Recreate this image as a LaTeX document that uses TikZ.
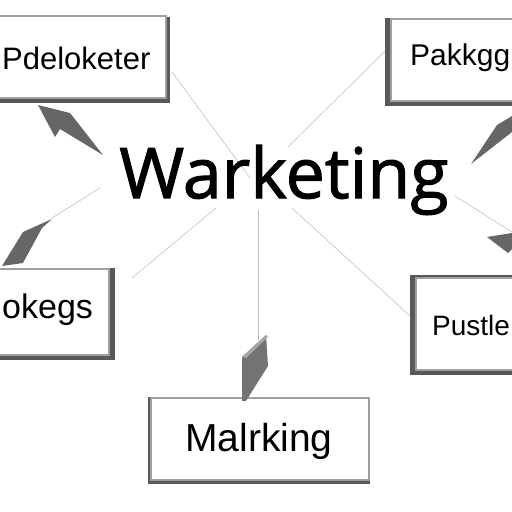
\documentclass[tikz,border=0pt]{standalone}
\usepackage{fontspec}
\setmainfont{Liberation Sans}
\newfontfamily\handfont[FakeBold=1.5]{Open Sans}
\begin{document}
\begin{tikzpicture}[x=1pt,y=-1pt,
  boxstyle/.style={fill=white,draw=gray!75,line width=1.6pt},
  shadowstyle/.style={fill=black!65},
  wedge/.style={fill=black!60,draw=none},
  thin/.style={draw=gray!55,line width=0.5pt}]
\useasboundingbox[fill=white] (0,0) rectangle (512,512);
% connectors (thin lines)
\coordinate (c1) at (250,178);
\coordinate (c2) at (288,147);
\coordinate (c3) at (216,208);
\coordinate (c4) at (292,208);
\coordinate (c5) at (258,210);
\coordinate (c6) at (455,196);
\coordinate (c7) at (100,188);
\coordinate (tl) at (172,72);
\coordinate (tr) at (386,50);
\coordinate (lb) at (132,278);
\coordinate (rb) at (410,316);
\coordinate (bb) at (258,340);
\coordinate (rr) at (512,232);
\coordinate (la) at (52,218);
\draw[thin] (tl) -- (c1);
\draw[thin] (tr) -- (c2);
\draw[thin] (c3) -- (lb);
\draw[thin] (c4) -- (rb);
\draw[thin] (c5) -- (bb);
\draw[thin] (c6) -- (rr);
\draw[thin] (la) -- (c7);
% boxes with shadows
\fill[shadowstyle] (-5,17) rectangle (170,103);
\node[boxstyle,minimum width=170,minimum height=82,inner sep=0,anchor=north west] (btl) at (-5,15) {};
\node[anchor=west,inner sep=0,font=\fontsize{31}{31}\selectfont] (ttl) at (2,58) {Pdeloketer};

\fill[shadowstyle] (385,18) rectangle (520,106);
\node[boxstyle,minimum width=130,minimum height=82,inner sep=0,anchor=north west] (btr) at (390,18) {};
\node[anchor=west,inner sep=0,font=\fontsize{30}{30}\selectfont] (ttr) at (410,58) {Pakkgg};

\fill[shadowstyle] (-5,268) rectangle (115,360);
\node[boxstyle,minimum width=113,minimum height=86,inner sep=0,anchor=north west] (bl) at (-5,268) {};
\node[anchor=west,inner sep=0,font=\fontsize{34}{34}\selectfont] (tlb) at (2,310) {okegs};

\fill[shadowstyle] (410,275) rectangle (520,375);
\node[boxstyle,minimum width=105,minimum height=92,inner sep=0,anchor=north west] (br) at (415,277) {};
\node[anchor=west,inner sep=0,font=\fontsize{28}{28}\selectfont] (trb) at (432,325) {Pustle};

\fill[shadowstyle] (148,397) rectangle (370,484);
\node[boxstyle,minimum width=218,minimum height=82,inner sep=0,anchor=north west] (bb2) at (150,397) {};
\node[font=\fontsize{39}{39}\selectfont] (tbb) at (259,441) {Malrking};

% arrows (wedges)
\fill[wedge] (38,105) -- (70,113) -- (103,155) -- (60,129) -- (55,137) -- cycle;
\fill[wedge] (471,164) -- (497,125) -- (512,116) -- (512,132) -- cycle;
\fill[wedge] (52,219) -- (42,228) -- (23,263) -- (2,266) -- (23,232) -- cycle;
\fill[wedge] (487,237) -- (512,233) -- (512,249) -- (508,253) -- cycle;
\fill[black!55] (242,357) -- (266,335) -- (268,366) -- (246,401) -- (242,401) -- cycle;
\fill[black!35] (242,357) -- (266,335) -- (268,337) -- (246,358) -- cycle;

% central title
\node[font=\handfont\fontsize{70}{70}\selectfont] (title) at (284,180) {Warketing};
\end{tikzpicture}
\end{document}
